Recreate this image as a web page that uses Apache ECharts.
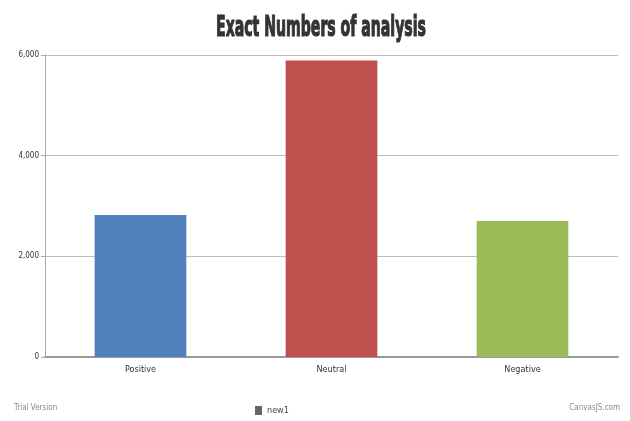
<!DOCTYPE html>
<html>
<head>
<meta charset="utf-8">
<script src="https://cdn.jsdelivr.net/npm/echarts@6/dist/echarts.min.js"></script>
<style>
html,body{margin:0;padding:0;background:#fff;}
#chart{width:630px;height:421px;}
</style>
</head>
<body>
<div id="chart"></div>
<script>
const titleText = "Exact Numbers of analysis";
const categories = ["Positive", "Neutral", "Negative"];
const seriesName = "new1";
const values = [2820, 5890, 2700];
const barColors = ["#4f81bd", "#c0504d", "#9bbb59"];
const yTicks = [0, 2000, 4000, 6000];

const narrow = '"DejaVu Sans Condensed", "Liberation Sans Narrow", "DejaVu Sans", sans-serif';
const chart = echarts.init(document.getElementById('chart'), null, {renderer: 'canvas'});
chart.setOption({
  backgroundColor: '#ffffff',
  animation: false,
  grid: {left: 45, right: 12, top: 55, bottom: 64, containLabel: false},
  legend: {
    data: [seriesName],
    left: 250, top: 401,
    itemWidth: 7, itemHeight: 9, itemGap: 4,
    icon: 'rect',
    itemStyle: {color: '#666666'},
    textStyle: {fontSize: 9, color: '#444', fontFamily: narrow}
  },
  graphic: [
    {type: 'text', x: 321, y: 28, scaleX: 0.54,
     style: {text: titleText, fontSize: 29, fontWeight: 'bold', fontFamily: narrow,
             fill: '#333333', stroke: '#333333', lineWidth: 1.2,
             align: 'center', verticalAlign: 'middle'}},
    {type: 'text', x: 14, y: 408,
     style: {text: 'Trial Version', fontSize: 8, fontFamily: narrow, fill: '#888', verticalAlign: 'middle'}},
    {type: 'text', x: 620, y: 408,
     style: {text: 'CanvasJS.com', fontSize: 8, fontFamily: narrow, fill: '#888', align: 'right', verticalAlign: 'middle'}}
  ],
  xAxis: {
    type: 'category',
    data: categories,
    axisLine: {lineStyle: {color: '#999', width: 2}},
    axisTick: {show: false},
    axisLabel: {fontSize: 9, color: '#333', fontFamily: narrow, margin: 8}
  },
  yAxis: {
    type: 'value',
    min: yTicks[0], max: yTicks[yTicks.length - 1], interval: yTicks[1] - yTicks[0],
    axisLine: {show: true, lineStyle: {color: '#aaa', width: 1}},
    axisTick: {show: true, length: 4, lineStyle: {color: '#aaa'}},
    axisLabel: {fontSize: 8, color: '#333', fontFamily: narrow, margin: 6,
                formatter: v => v.toLocaleString('en-US')},
    splitLine: {lineStyle: {color: '#bdbdbd', width: 1}}
  },
  series: [{
    name: seriesName,
    type: 'bar',
    barCategoryGap: '52%',
    data: values.map((v, i) => ({value: v, itemStyle: {color: barColors[i]}}))
  }]
});
</script>
</body>
</html>
